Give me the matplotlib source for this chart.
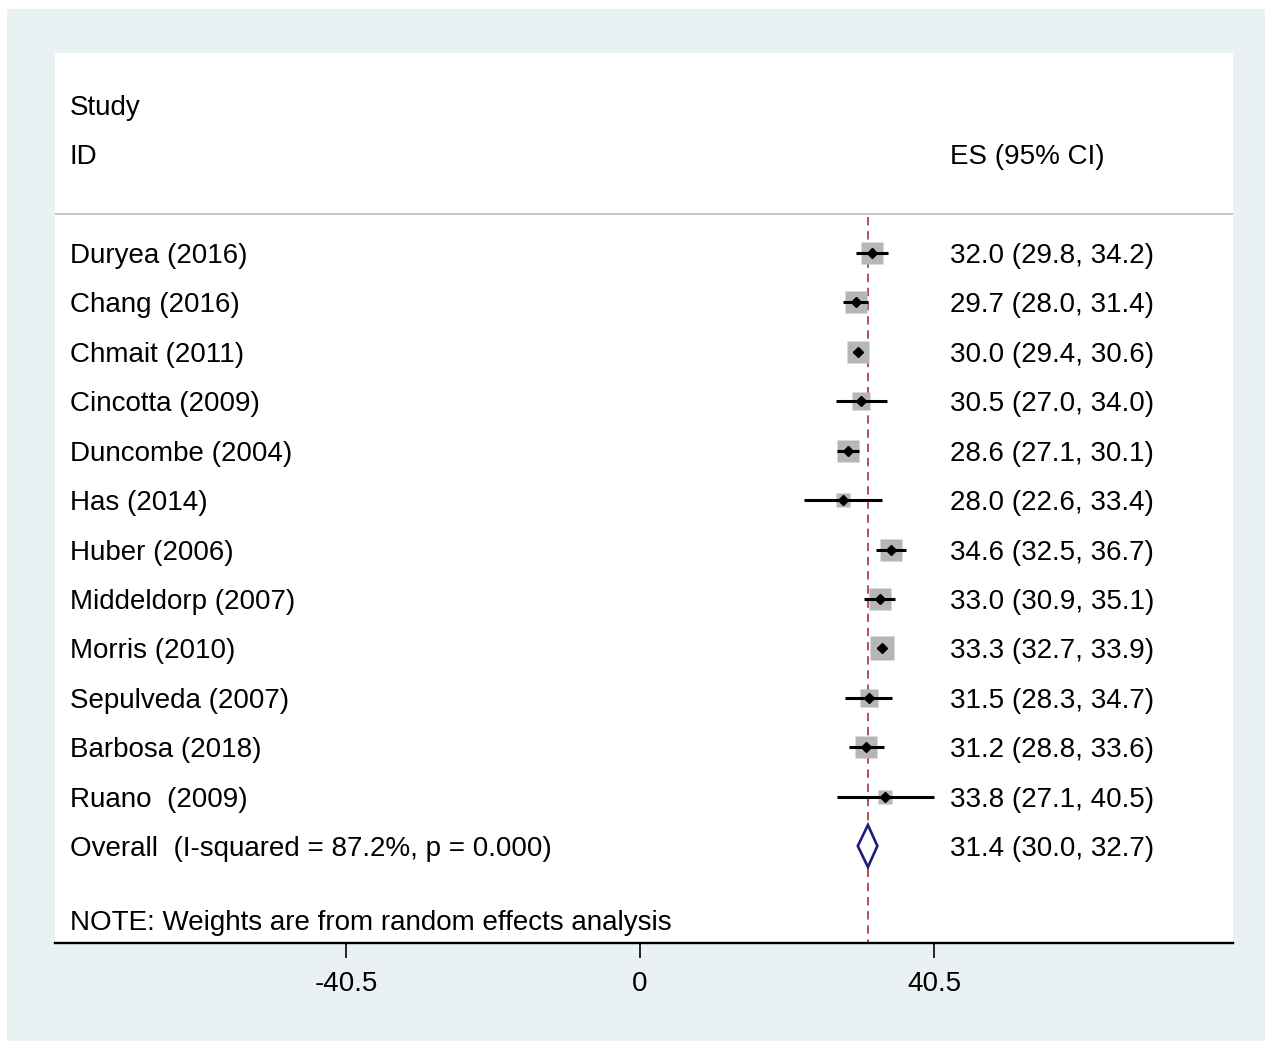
import matplotlib
matplotlib.use('Agg')
import matplotlib.pyplot as plt
from matplotlib.patches import Rectangle, Polygon

plt.rcParams['font.family'] = ['Liberation Sans', 'DejaVu Sans']

# data
studies = ['Duryea (2016)', 'Chang (2016)', 'Chmait (2011)', 'Cincotta (2009)',
           'Duncombe (2004)', 'Has (2014)', 'Huber (2006)', 'Middeldorp (2007)',
           'Morris (2010)', 'Sepulveda (2007)', 'Barbosa (2018)', 'Ruano  (2009)']
es = [32.0, 29.7, 30.0, 30.5, 28.6, 28.0, 34.6, 33.0, 33.3, 31.5, 31.2, 33.8]
lo = [29.8, 28.0, 29.4, 27.0, 27.1, 22.6, 32.5, 30.9, 32.7, 28.3, 28.8, 27.1]
hi = [34.2, 31.4, 30.6, 34.0, 30.1, 33.4, 36.7, 35.1, 33.9, 34.7, 33.6, 40.5]
weights = [9.1, 9.9, 9.9, 6.7, 9.9, 4.6, 9.1, 9.1, 11.8, 7.4, 9.1, 3.5]
overall_es = 31.4
overall_lo = 30.0
overall_hi = 32.7
overall_label = 'Overall  (I-squared = 87.2%, p = 0.000)'
tick_vals = [-40.5, 0, 40.5]
tick_labels = ['-40.5', '0', '40.5']

W, H = 1265, 1041
fig = plt.figure(figsize=(W / 100, H / 100), dpi=100)
fig.patch.set_facecolor('white')

# light graph region behind the plot
bg = fig.add_axes([7 / W, 0, 1 - 7 / W, 1 - 9 / H], zorder=-1)
bg.set_axis_off()
bg.add_patch(Rectangle((0, 0), 1, 1, transform=bg.transAxes, facecolor='#E9F1F3',
                       edgecolor='none'))

ax = fig.add_axes([55 / W, (H - 943) / H, (1233 - 55) / W, (943 - 53) / H], zorder=1)
ax.set_facecolor('white')

px_per_unit = 294 / 40.5
ax.set_xlim((55 - 640) / px_per_unit, (1233 - 640) / px_per_unit)
row_px = (846 - 253) / 12
ax.set_ylim((943 - 253) / row_px, (53 - 253) / row_px)

fs = 20
xl = (70 - 640) / px_per_unit
xr = (950 - 640) / px_per_unit
dy = 3 / row_px  # text sits a touch lower than the marks


def label(x, y, s):
    ax.text(x, y + dy, s, fontsize=fs, va='center', ha='left')


label(xl, -3.0, 'Study')
label(xl, -2.0, 'ID')
label(xr, -2.0, 'ES (95% CI)')
ax.axhline(-0.79, color='#BDBDBD', lw=1.2, zorder=1)

n = len(studies)
ax.plot([overall_es, overall_es], [-0.72, 14.5], color='#A8323E', lw=1.2,
        dashes=(5, 3.5), zorder=2)

for i in range(n):
    side = (weights[i] * 48.71) ** 0.5 / 1.389
    ax.plot(es[i], i, marker='s', ms=side, color='#B6B6B6', mec='none', zorder=3)
    ax.plot([lo[i], hi[i]], [i, i], color='black', lw=2.2, solid_capstyle='butt', zorder=4)
    ax.plot(es[i], i, marker='D', ms=5.4, color='black', zorder=5)
    label(xl, i, studies[i])
    label(xr, i, '%.1f (%.1f, %.1f)' % (es[i], lo[i], hi[i]))

yo = n
dh = 0.425
ax.add_patch(Polygon([[overall_lo, yo], [overall_es, yo - dh], [overall_hi, yo],
                      [overall_es, yo + dh]], closed=True, facecolor='white',
                     edgecolor='#1C1C78', lw=1.9, zorder=6))
label(xl, yo, overall_label)
label(xr, yo, '%.1f (%.1f, %.1f)' % (overall_es, overall_lo, overall_hi))

label(xl, (920 - 253) / row_px, 'NOTE: Weights are from random effects analysis')

for s in ['top', 'left', 'right']:
    ax.spines[s].set_visible(False)
ax.spines['bottom'].set_linewidth(1.7)
ax.set_yticks([])
ax.set_xticks(tick_vals)
ax.set_xticklabels(tick_labels, fontsize=fs)
ax.tick_params(axis='x', length=11, width=1.2, pad=9, direction='out')

fig.savefig('out.png', dpi=100, facecolor=fig.get_facecolor())
